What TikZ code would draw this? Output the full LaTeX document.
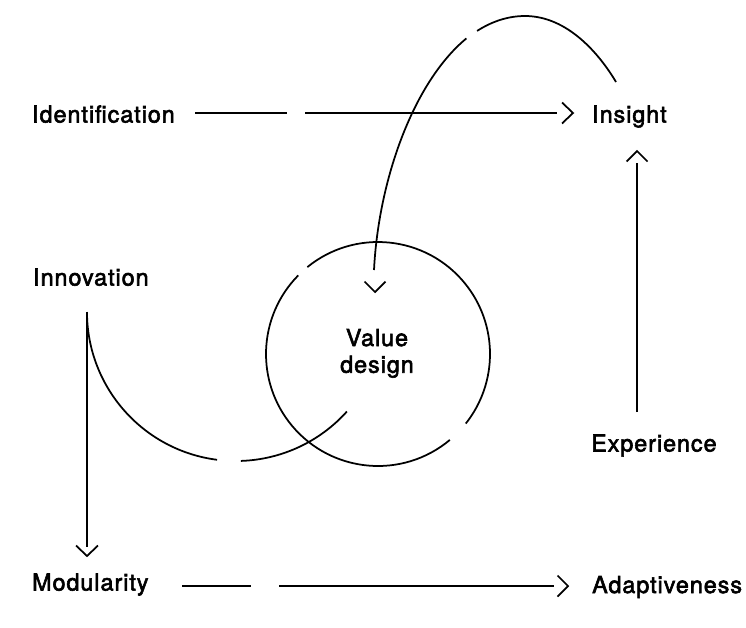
\documentclass[tikz,border=0pt]{standalone}
\usepackage{fontspec}
\setmainfont{TeX Gyre Heros}[LetterSpace=4.2, FakeBold=2.5]
\begin{document}
\begin{tikzpicture}[x=1pt,y=-1pt,
  lbl/.style={font=\fontsize{23.3}{26.7}\selectfont, inner sep=0pt, anchor=base west},
  ln/.style={line width=1.75pt},
  chev/.style={line width=1.75pt}]
\useasboundingbox (0,0) rectangle (746,627);
% labels
\node[lbl] (ident) at (32,122.5) {Identification};
\node[lbl] (insight) at (592,122.5) {Insight};
\node[lbl] (innov) at (33,285.5) {Innovation};
\node[lbl] (exper) at (591,451.5) {Experience};
\node[lbl] (modul) at (32,590.5) {Modularity};
\node[lbl] (adapt) at (592,593) {Adaptiveness};
\node[font=\fontsize{23.3}{26.7}\selectfont, inner sep=0pt, align=center] (value) at (377,353.4) {Value\\design};
% coordinates
\coordinate (vc) at (378,354);
\coordinate (ic) at (236,312);
\coordinate (ia) at (195,113); \coordinate (ib) at (287,113);
\coordinate (ic2) at (305,113); \coordinate (id) at (557,113);
\coordinate (ma) at (182,586); \coordinate (mb) at (251,586);
\coordinate (mc) at (279,586); \coordinate (md) at (554,586);
\coordinate (ea) at (637,412); \coordinate (eb) at (637,163);
\coordinate (na) at (87,312); \coordinate (nb) at (87,547);
% Identification -> Insight
\draw[ln] (ia) -- (ib);
\draw[ln] (ic2) -- (id);
\draw[chev] (562,102.5) -- (573,113) -- (562,123.5);
% Experience -> Insight
\draw[ln] (ea) -- (eb);
\draw[chev] (626.5,161.5) -- (637,151) -- (647.5,161.5);
% Innovation -> Modularity
\draw[ln] (na) -- (nb);
\draw[chev] (76,545.5) -- (87,556) -- (98,545.5);
% Modularity -> Adaptiveness
\draw[ln] (ma) -- (mb);
\draw[ln] (mc) -- (md);
\draw[chev] (557.5,575.5) -- (568,586) -- (557.5,596.5);
% Value design circle
\draw[ln] (vc) ++(50.1:112) arc[start angle=50.1, end angle=224.6, radius=112];
\draw[ln] (vc) ++(230.9:112) arc[start angle=230.9, end angle=398.4, radius=112];
% Innovation arc
\draw[ln] (na) arc[start angle=180, end angle=97.3, radius=149];
\draw[ln] (ic) ++(88.1:149) arc[start angle=88.1, end angle=41.9, radius=149];
% Insight -> Value design big arc
\draw[ln] (374,270) .. controls (378.5,180) and (413.4,82.1) .. (466.4,38.4);
\draw[ln] (477.1,30.9) .. controls (492,21.4) and (508,16) .. (525,16) .. controls (568,16) and (600,55) .. (616,82);
\draw[chev] (364.5,281.5) -- (375,292) -- (385.5,281.5);
\end{tikzpicture}
\end{document}
